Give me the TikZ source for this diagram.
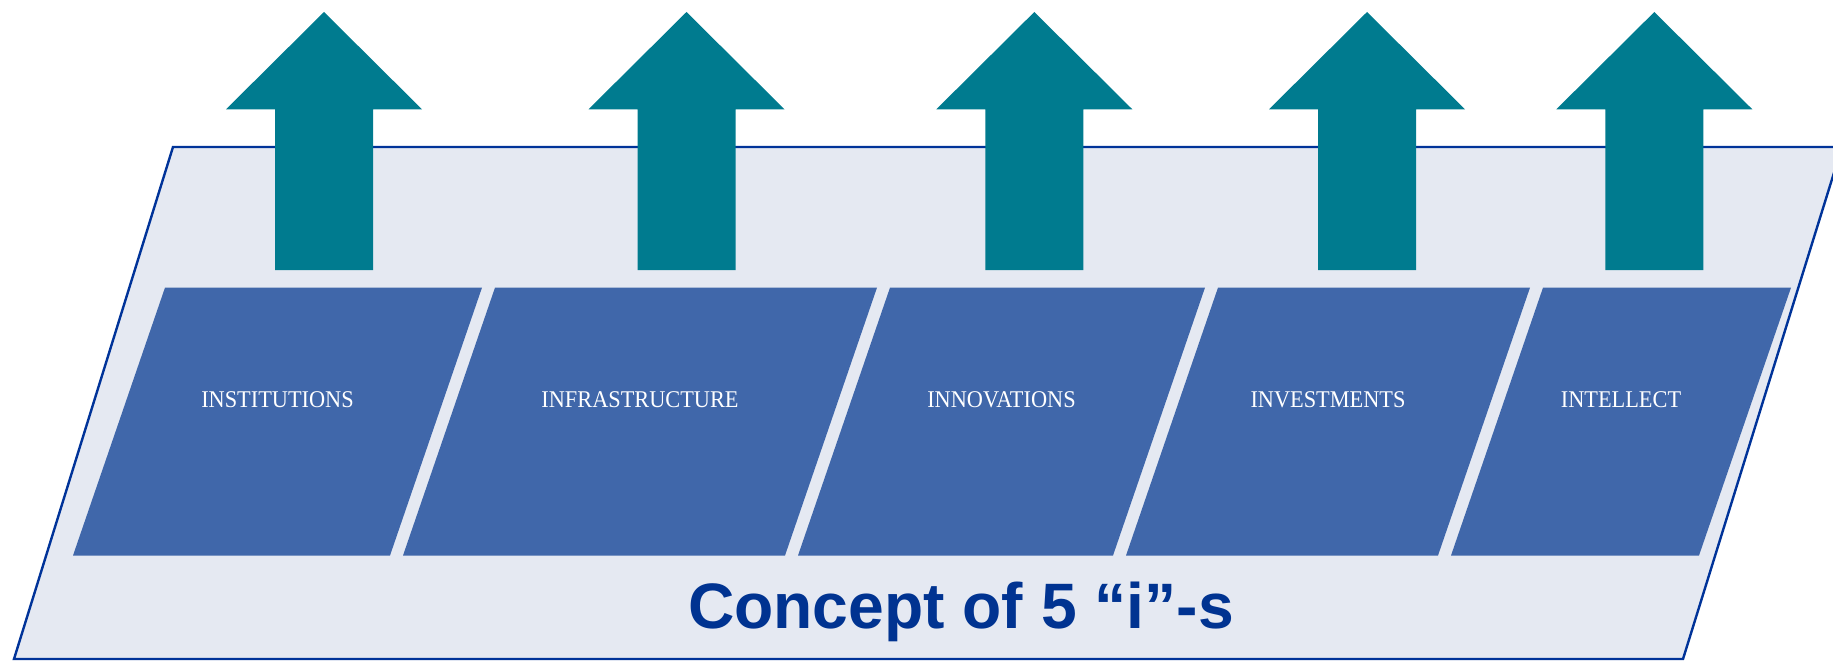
\documentclass[tikz,border=0pt]{standalone}
\usepackage{fontspec}
\newfontfamily\panelfont[FakeStretch=0.93]{Liberation Serif}
\newfontfamily\headfont{Liberation Sans}

\definecolor{sheetfill}{RGB}{229,233,242}
\definecolor{sheetline}{RGB}{0,51,153}
\definecolor{panelblue}{RGB}{64,103,170}
\definecolor{arrowteal}{RGB}{0,123,143}
\definecolor{headblue}{RGB}{0,51,145}

\tikzset{
  sheet/.style={fill=sheetfill, draw=sheetline, line width=2.4bp, line join=miter},
  panel/.style={fill=panelblue},
  uparrow/.style={fill=arrowteal},
  panellabel/.style={anchor=base, inner sep=0pt, text=white,
    font=\panelfont\fontsize{24bp}{28bp}\selectfont},
  headline/.style={anchor=base, inner sep=0pt, text=headblue,
    font=\headfont\bfseries\fontsize{64.2bp}{70bp}\selectfont}
}

\begin{document}
\begin{tikzpicture}[x=1bp, y=-1bp]
  \useasboundingbox (0,0) rectangle (1833,661);

  % slanted base sheet, its right corner runs past the edge
  \begin{scope}
    \clip (0,0) rectangle (1833,661);
    \draw[sheet] (173,147) -- (1842,147) -- (1683,659) -- (14,659) -- cycle;
  \end{scope}

  % five slanted panels with their labels
  \foreach \tl/\tr/\nm/\txt in {165/482/inst/INSTITUTIONS,
                                495/877/infra/INFRASTRUCTURE,
                                890/1205/innov/INNOVATIONS,
                                1218/1530/invest/INVESTMENTS,
                                1543/1791/intel/INTELLECT}{
    \fill[panel] (\tl,287.6) -- (\tr,287.6) -- (\tr-92,555.5) -- (\tl-92,555.5) -- cycle;
    \node[panellabel] (\nm) at ({(\tl+\tr)/2-46},407) {\txt};
  }

  % block arrows pointing up
  \foreach \c in {324,686.5,1034.3,1367,1654.3}{
    \fill[uparrow] (\c,12) -- ++(98,97.3) -- ++(-49,0) -- ++(0,160.7)
      -- ++(-98,0) -- ++(0,-160.7) -- ++(-49,0) -- cycle;
  }

  % caption
  \node[headline] (caption) at (961,628.3) {Concept of 5 “i”-s};
\end{tikzpicture}
\end{document}
